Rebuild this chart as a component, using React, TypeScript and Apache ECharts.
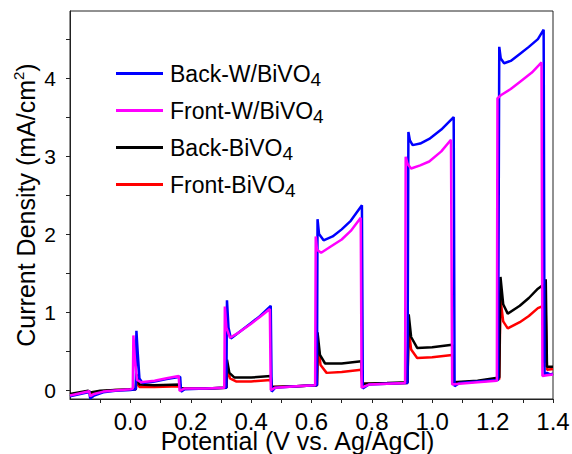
import React, { useEffect, useRef } from "react";
import * as echarts from "echarts";

// [Potential (V), Current density (mA/cm2)]
const backW: [number, number][] = [
  [-0.2, -0.08], [-0.14, -0.03], [-0.137, -0.01], [-0.133, -0.11], [-0.12, -0.07], [-0.09, -0.03],
  [-0.05, -0.01], [0.0, 0.0], [0.018, 0.01], [0.02, 0.76], [0.024, 0.5], [0.03, 0.15], [0.04, 0.09],
  [0.08, 0.11], [0.12, 0.14], [0.165, 0.17], [0.168, -0.02], [0.18, 0.01], [0.25, 0.02], [0.318, 0.03],
  [0.32, 1.15], [0.325, 0.8], [0.333, 0.66], [0.36, 0.74], [0.4, 0.86], [0.43, 0.95], [0.465, 1.08],
  [0.468, -0.02], [0.48, 0.03], [0.55, 0.05], [0.618, 0.06], [0.62, 2.19], [0.625, 2.0], [0.64, 1.92],
  [0.67, 1.97], [0.7, 2.06], [0.73, 2.17], [0.767, 2.37], [0.77, 0.02], [0.79, 0.07], [0.85, 0.08],
  [0.918, 0.09], [0.921, 3.31], [0.926, 3.2], [0.935, 3.14], [0.96, 3.16], [0.99, 3.22], [1.03, 3.34],
  [1.071, 3.5], [1.074, 0.05], [1.09, 0.09], [1.15, 0.11], [1.218, 0.13], [1.222, 4.4], [1.227, 4.25],
  [1.238, 4.19], [1.26, 4.22], [1.29, 4.31], [1.32, 4.4], [1.35, 4.5], [1.369, 4.62], [1.372, 0.2],
  [1.38, 0.22], [1.39, 0.2], [1.4, 0.21],
];

const frontW: [number, number][] = [
  [-0.2, -0.07], [-0.14, -0.02], [-0.137, -0.01], [-0.133, -0.08], [-0.12, -0.05], [-0.09, -0.02],
  [-0.05, -0.005], [0.0, 0.01], [0.008, 0.02], [0.01, 0.7], [0.015, 0.4], [0.022, 0.13], [0.035, 0.1],
  [0.08, 0.12], [0.12, 0.15], [0.16, 0.18], [0.163, -0.01], [0.18, 0.02], [0.25, 0.02], [0.311, 0.03],
  [0.313, 1.07], [0.318, 0.8], [0.33, 0.67], [0.36, 0.74], [0.4, 0.85], [0.43, 0.94], [0.462, 1.04],
  [0.465, 0.0], [0.48, 0.03], [0.55, 0.05], [0.612, 0.06], [0.614, 1.97], [0.618, 1.8], [0.632, 1.76],
  [0.66, 1.83], [0.7, 1.93], [0.73, 2.04], [0.763, 2.21], [0.766, 0.03], [0.79, 0.07], [0.85, 0.08],
  [0.91, 0.09], [0.912, 2.99], [0.918, 2.9], [0.93, 2.84], [0.96, 2.88], [0.99, 2.93], [1.03, 3.06],
  [1.062, 3.21], [1.066, 0.07], [1.09, 0.08], [1.15, 0.1], [1.214, 0.12], [1.216, 3.74], [1.227, 3.78],
  [1.26, 3.86], [1.29, 3.95], [1.33, 4.07], [1.362, 4.2], [1.365, 0.18], [1.38, 0.19], [1.4, 0.2],
];

const backB: [number, number][] = [
  [-0.2, -0.05], [-0.14, -0.01], [-0.133, -0.03], [-0.1, -0.01], [-0.05, 0.0], [0.0, 0.01], [0.018, 0.01],
  [0.02, 0.2], [0.03, 0.07], [0.08, 0.06], [0.165, 0.07], [0.168, 0.02], [0.25, 0.02], [0.318, 0.03],
  [0.32, 0.39], [0.328, 0.22], [0.345, 0.16], [0.4, 0.16], [0.465, 0.18], [0.468, 0.04], [0.55, 0.05],
  [0.618, 0.06], [0.62, 0.74], [0.628, 0.45], [0.645, 0.34], [0.7, 0.34], [0.765, 0.37], [0.768, 0.08],
  [0.85, 0.09], [0.918, 0.1], [0.922, 0.97], [0.93, 0.68], [0.95, 0.54], [1.0, 0.55], [1.066, 0.58],
  [1.069, 0.1], [1.15, 0.12], [1.222, 0.16], [1.226, 1.45], [1.235, 1.1], [1.25, 0.98], [1.29, 1.08],
  [1.32, 1.18], [1.35, 1.3], [1.368, 1.35], [1.372, 0.35], [1.376, 1.42], [1.38, 0.3], [1.4, 0.3],
];

const frontB: [number, number][] = [
  [-0.2, -0.06], [-0.14, -0.02], [-0.133, -0.04], [-0.1, -0.02], [-0.05, 0.0], [0.0, 0.005], [0.018, 0.01],
  [0.02, 0.12], [0.03, 0.04], [0.08, 0.04], [0.165, 0.05], [0.168, 0.02], [0.25, 0.02], [0.318, 0.03],
  [0.322, 0.29], [0.33, 0.15], [0.35, 0.11], [0.4, 0.11], [0.465, 0.13], [0.468, 0.04], [0.55, 0.05],
  [0.618, 0.06], [0.622, 0.58], [0.63, 0.32], [0.65, 0.22], [0.7, 0.23], [0.765, 0.26], [0.768, 0.08],
  [0.85, 0.08], [0.918, 0.09], [0.922, 0.78], [0.93, 0.52], [0.95, 0.41], [1.0, 0.42], [1.066, 0.45],
  [1.069, 0.09], [1.15, 0.11], [1.222, 0.14], [1.226, 1.17], [1.235, 0.88], [1.25, 0.79], [1.29, 0.87],
  [1.32, 0.95], [1.35, 1.05], [1.368, 1.08], [1.372, 0.3], [1.376, 0.98], [1.38, 0.26], [1.4, 0.27],
];

const seriesNames = ["Back-W/BiVO4", "Front-W/BiVO4", "Back-BiVO4", "Front-BiVO4"];
const xTickValues = [-0.1, 0.0, 0.1, 0.2, 0.3, 0.4, 0.5, 0.6, 0.7, 0.8, 0.9, 1.0, 1.1, 1.2, 1.3, 1.4];
const xLabelValues = [0.0, 0.2, 0.4, 0.6, 0.8, 1.0, 1.2, 1.4];
const yTickValues = [0, 0.5, 1, 1.5, 2, 2.5, 3, 3.5, 4, 4.5];
const yLabelValues = [0, 1, 2, 3, 4];

const FONT = "'Liberation Sans', Arial, Helvetica, sans-serif";

export default function App() {
  const ref = useRef<HTMLDivElement>(null);
  useEffect(() => {
    document.body.style.margin = "0";
    if (!ref.current) return;
    const chart = echarts.init(ref.current, undefined, { renderer: "svg" });
    const line = (name: string, data: [number, number][], color: string) => ({
      name,
      type: "line",
      data,
      showSymbol: false,
      symbol: "none",
      lineStyle: { color, width: 2.5 },
      itemStyle: { color },
      emphasis: { disabled: true },
    });
    chart.setOption({
      animation: false,
      backgroundColor: "#fff",
      textStyle: { fontFamily: FONT },
      grid: {
        left: 70, right: 19, top: 11, bottom: 55,
        outerBoundsMode: "none",
        containLabel: false,
        show: true, borderColor: "#222", borderWidth: 1, backgroundColor: "transparent",
      },
      legend: {
        data: seriesNames,
        orient: "vertical",
        left: 116,
        top: 58,
        padding: 0,
        itemWidth: 47,
        itemHeight: 3,
        itemGap: 6,
        icon: "rect",
        formatter: (n: string) => n.replace(/4$/, "{sub|4}"),
        textStyle: {
          fontFamily: FONT,
          fontSize: 23,
          lineHeight: 31,
          color: "#000",
          padding: [0, 0, 0, 2],
          rich: {
            sub: { fontFamily: FONT, fontSize: 19, lineHeight: 19, verticalAlign: "bottom", color: "#000" },
          },
        },
      },
      xAxis: {
        type: "value",
        min: -0.2,
        max: 1.4,
        name: "Potential (V vs. Ag/AgCl)",
        nameLocation: "middle",
        nameGap: 29,
        nameMoveOverlap: false,
        nameTextStyle: { fontFamily: FONT, fontSize: 25, color: "#000", padding: [0, 28, 0, 0] },
        axisLine: { show: true, onZero: false, lineStyle: { color: "#222", width: 1 } },
        axisTick: { show: true, length: 4, customValues: xTickValues, lineStyle: { color: "#222" } },
        axisLabel: {
          customValues: xLabelValues,
          fontFamily: FONT,
          fontSize: 24,
          color: "#000",
          margin: 10,
          formatter: (v: number) => v.toFixed(1),
        },
        splitLine: { show: false },
      },
      yAxis: {
        type: "value",
        min: -0.115,
        max: 4.86,
        name: "Current Density (mA/cm{sup|2})",
        nameLocation: "middle",
        nameRotate: 90,
        nameGap: 29,
        nameMoveOverlap: false,
        nameTextStyle: {
          fontFamily: FONT,
          fontSize: 25,
          lineHeight: 30,
          color: "#000",
          rich: { sup: { fontFamily: FONT, fontSize: 15, lineHeight: 15, verticalAlign: "top", color: "#000" } },
        },
        axisLine: { show: true, onZero: false, lineStyle: { color: "#222", width: 1 } },
        axisTick: { show: true, length: 4, customValues: yTickValues, lineStyle: { color: "#222" } },
        axisLabel: {
          customValues: yLabelValues,
          fontFamily: FONT,
          fontSize: 21,
          color: "#000",
          margin: 14,
          formatter: (v: number) => String(Math.round(v)),
        },
        splitLine: { show: false },
      },
      series: [
        line(seriesNames[3], frontB, "#ff0000"),
        line(seriesNames[2], backB, "#000000"),
        line(seriesNames[0], backW, "#0000ff"),
        line(seriesNames[1], frontW, "#ff00ff"),
      ],
    });
    return () => chart.dispose();
  }, []);
  return <div ref={ref} style={{ position: "absolute", left: 0, top: 0, width: 572, height: 454 }} />;
}
